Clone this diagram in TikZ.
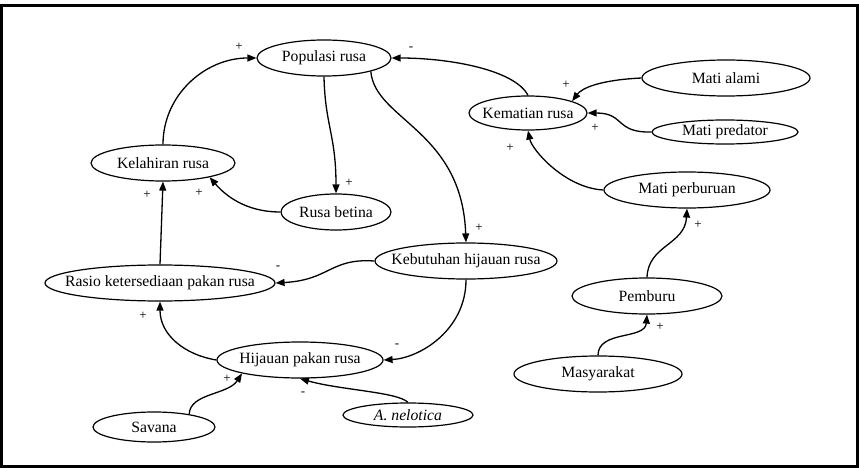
\documentclass[tikz,border=0pt]{standalone}
\usepackage{fontspec}
\setmainfont{Liberation Serif}
\usetikzlibrary{shapes.geometric,arrows.meta}
\begin{document}
\begin{tikzpicture}[x=1pt,y=-1pt,
  ell/.style={draw,ellipse,line width=1.2pt,inner sep=0pt,font=\fontsize{15.7}{16}\selectfont},
  conn/.style={line width=1.3pt,-{Triangle[length=9pt,width=7pt]}},
  sign/.style={font=\fontsize{13}{13}\selectfont,inner sep=0pt}]
\useasboundingbox (0,0) rectangle (859,468);
\fill[white] (0,0) rectangle (859,468);
\draw[line width=3pt] (1.5,5.5) rectangle (857.5,466.5);

% nodes
\node[ell,minimum width=134pt,minimum height=36pt] (pop) at (324,58) {\makebox[0pt]{Populasi rusa}};
\node[ell,minimum width=144pt,minimum height=36pt] (kel) at (163,163) {\makebox[0pt]{Kelahiran rusa}};
\node[ell,minimum width=110pt,minimum height=36pt] (rb) at (336,212) {\makebox[0pt]{Rusa betina}};
\node[ell,minimum width=118pt,minimum height=34pt] (kem) at (528,113) {\makebox[0pt]{Kematian rusa}};
\node[ell,minimum width=168pt,minimum height=36pt] (ma) at (726,78) {\makebox[0pt]{Mati alami}};
\node[ell,minimum width=146pt,minimum height=24pt] (mp) at (725,132) {\makebox[0pt]{Mati predator}};
\node[ell,minimum width=166pt,minimum height=36pt] (mpb) at (687,190) {\makebox[0pt]{Mati perburuan}};
\node[ell,minimum width=182pt,minimum height=36pt] (keb) at (466,261) {\makebox[0pt]{Kebutuhan hijauan rusa}};
\node[ell,minimum width=230pt,minimum height=36pt] (ras) at (160,283) {\makebox[0pt]{Rasio ketersediaan pakan rusa}};
\node[ell,minimum width=166pt,minimum height=36pt] (hij) at (300,360) {\makebox[0pt]{Hijauan pakan rusa}};
\node[ell,minimum width=122pt,minimum height=30pt] (sav) at (154,427) {\makebox[0pt]{Savana}};
\node[ell,minimum width=130pt,minimum height=24pt] (nel) at (408,415) {\makebox[0pt]{\itshape A. nelotica}};
\node[ell,minimum width=150pt,minimum height=36pt] (pem) at (647,296) {\makebox[0pt]{Pemburu}};
\node[ell,minimum width=168pt,minimum height=36pt] (mas) at (598,374) {\makebox[0pt]{Masyarakat}};

% connectors
\draw[conn] (kel.north) .. controls (163,95) and (205,58) .. (pop.west);
\draw[conn] (pop.south) .. controls (325,125) and (336,135) .. (rb.north);
\draw[conn] (rb.west) .. controls (245,212) and (225,195) .. (kel.-17);
\draw[conn] (pop.-16) .. controls (375,120) and (462,130) .. (keb.north);
\draw[conn] (kem.north) .. controls (515,70) and (450,58) .. (pop.east);
\draw[conn] (ma.west) .. controls (600,80) and (582,88) .. (kem.15);
\draw[conn] (mp.west) .. controls (615,133) and (625,113) .. (kem.east);
\draw[conn] (mpb.west) .. controls (565,188) and (532,150) .. (kem.south);
\draw[conn] (pem.north) .. controls (648,245) and (685,245) .. (mpb.south);
\draw[conn] (mas.north) .. controls (598,330) and (645,340) .. (pem.south);
\draw[conn] (keb.west) .. controls (330,258) and (330,280) .. (ras.east);
\draw[conn] (keb.south) .. controls (466,330) and (420,358) .. (hij.east);
\draw[conn] (hij.west) .. controls (185,355) and (160,335) .. (ras.south);
\draw[conn] (ras.north) -- (kel.south);
\draw[conn] (sav.20) .. controls (190,393) and (228,395) .. (hij.193);
\draw[conn] (nel.north) .. controls (398,392) and (340,390) .. (hij.south);

% signs
\node[sign] (s1) at (239,47) {+};
\node[sign] (s2) at (411,49) {-};
\node[sign] (s3) at (349,183) {+};
\node[sign] (s4) at (147,195) {+};
\node[sign] (s5) at (199,193) {+};
\node[sign] (s6) at (479,228) {+};
\node[sign] (s7) at (566,85) {+};
\node[sign] (s8) at (595,128) {+};
\node[sign] (s9) at (510,148) {+};
\node[sign] (s10) at (698,225) {+};
\node[sign] (s11) at (660,327) {+};
\node[sign] (s12) at (278,268) {-};
\node[sign] (s13) at (143,316) {+};
\node[sign] (s14) at (397,346) {-};
\node[sign] (s15) at (227,379) {+};
\node[sign] (s16) at (303,394) {-};
\end{tikzpicture}
\end{document}
